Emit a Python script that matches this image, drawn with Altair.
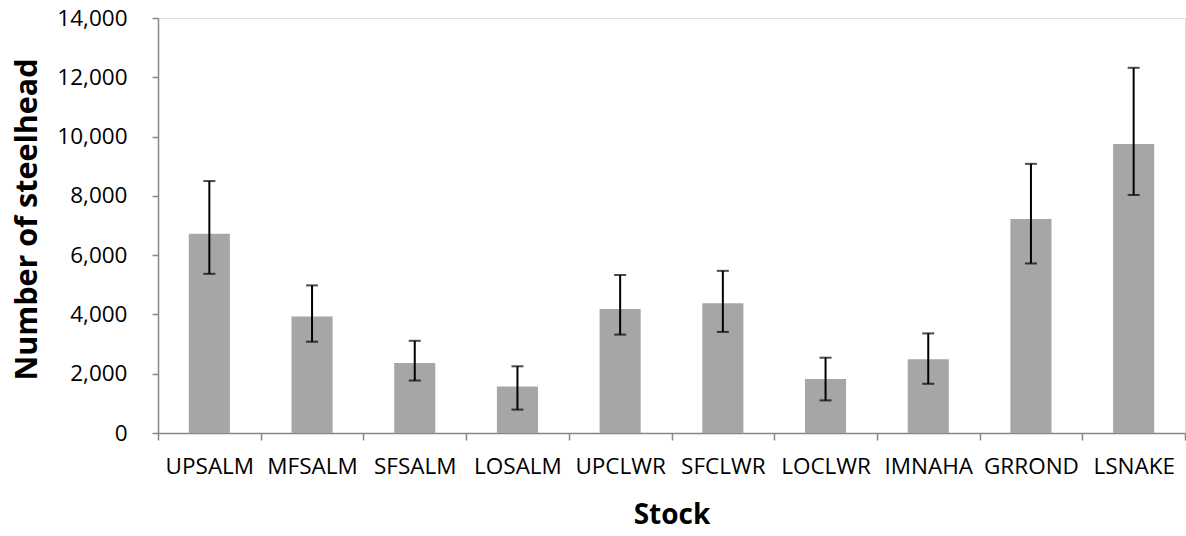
import altair as alt
import pandas as pd

stocks = ["UPSALM", "MFSALM", "SFSALM", "LOSALM", "UPCLWR", "SFCLWR", "LOCLWR", "IMNAHA", "GRROND", "LSNAKE"]
estimates = [6720, 3930, 2360, 1570, 4180, 4380, 1820, 2490, 7220, 9750]
lower = [5370, 3080, 1770, 790, 3320, 3410, 1100, 1660, 5720, 8030]
upper = [8500, 4980, 3110, 2250, 5330, 5470, 2540, 3360, 9080, 12320]
y_ticks = [0, 2000, 4000, 6000, 8000, 10000, 12000, 14000]

df = pd.DataFrame({"stock": stocks, "n": estimates, "lo": lower, "hi": upper})

FONT = "Open Sans"
AXIS_GRAY = "#878787"

x_enc = alt.X(
    "stock:N",
    sort=stocks,
    scale=alt.Scale(paddingInner=0, paddingOuter=0),
    axis=alt.Axis(
        title="Stock",
        labelAngle=0,
        tickBand="extent",
        labelFont=FONT,
        labelFontSize=22.5,
        labelColor="#000000",
        labelPadding=15,
        titleFont=FONT,
        titleFontSize=28,
        titleFontWeight="bold",
        titleColor="#000000",
        titlePadding=24,
        domainColor=AXIS_GRAY,
        domainWidth=1.5,
        tickColor=AXIS_GRAY,
        tickWidth=1.5,
        tickSize=7,
        grid=False,
    ),
)

y_scale = alt.Scale(domain=[0, 14000], nice=False)
y_axis = alt.Axis(
    title="Number of steelhead",
    values=y_ticks,
    format=",d",
    labelFont=FONT,
    labelFontSize=22.5,
    labelColor="#000000",
    labelPadding=25,
    titleFont=FONT,
    titleFontSize=30.5,
    titleFontWeight="bold",
    titleColor="#000000",
    titlePadding=14,
    titleY=201,
    domainColor=AXIS_GRAY,
    domainWidth=1.5,
    tickColor=AXIS_GRAY,
    tickWidth=1.5,
    tickSize=6,
    grid=False,
)

bars = alt.Chart(df).mark_bar(color="#A6A6A6", width=alt.RelativeBandSize(0.4)).encode(
    x=x_enc,
    y=alt.Y("n:Q", scale=y_scale, axis=y_axis),
)

rules = alt.Chart(df).mark_rule(color="#000000", strokeWidth=2).encode(
    x=alt.X("stock:N", sort=stocks),
    y=alt.Y("lo:Q", scale=y_scale),
    y2="hi:Q",
)

cap_lo = alt.Chart(df).mark_tick(color="#000000", thickness=2, size=12).encode(
    x=alt.X("stock:N", sort=stocks),
    y=alt.Y("lo:Q", scale=y_scale),
)
cap_hi = alt.Chart(df).mark_tick(color="#000000", thickness=2, size=12).encode(
    x=alt.X("stock:N", sort=stocks),
    y=alt.Y("hi:Q", scale=y_scale),
)

chart = (
    alt.layer(bars, rules, cap_lo, cap_hi)
    .properties(
        width=1027,
        height=415,
        autosize=alt.AutoSizeParams(type="none"),
        padding={"left": 158, "top": 18, "right": 1, "bottom": 103},
    )
    .configure_view(stroke=None)
    .configure(background="#ffffff")
)

chart.save("out.html", embed_options={"renderer": "svg", "actions": False})
